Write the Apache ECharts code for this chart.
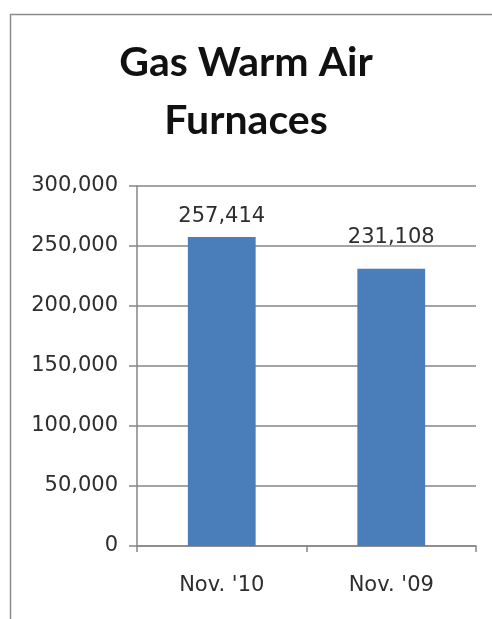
<!DOCTYPE html>
<html><head><meta charset="utf-8">
<script src="https://cdn.jsdelivr.net/npm/echarts@6/dist/echarts.min.js"></script>
<style>html,body{margin:0;padding:0;background:#fff}#c{width:492px;height:619px}</style>
</head><body><div id="c"></div>
<script>
const categories = ["Nov. '10", "Nov. '09"];
const values = [257414, 231108];
const yTicks = [0, 50000, 100000, 150000, 200000, 250000, 300000];
const titleLines = ["Gas Warm Air", "Furnaces"];

const labelDistances = [10, 21];

const chart = echarts.init(document.getElementById('c'));
const fmt = v => v.toLocaleString('en-US');
chart.setOption({
  animation: false,
  backgroundColor: '#fff',
  graphic: [{
    type: 'rect', left: 8, top: 12, silent: true,
    shape: {width: 520, height: 700},
    style: {fill: 'none', stroke: '#8c8c8c', lineWidth: 1.5}
  }],
  title: {
    text: titleLines.join('\n'), left: 'center', top: 29,
    textStyle: {fontFamily: 'Lato', fontWeight: 'bold', fontSize: 41, lineHeight: 58, color: '#111'}
  },
  grid: {left: 137, right: 16, top: 186, bottom: 73},
  xAxis: {
    type: 'category', data: categories,
    axisLine: {lineStyle: {color: '#868686', width: 1.5}},
    axisTick: {show: true, length: 6, lineStyle: {color: '#868686', width: 1.5}},
    axisLabel: {fontFamily: 'DejaVu Sans', fontSize: 21, color: '#2e2e2e', margin: 29}
  },
  yAxis: {
    type: 'value', min: yTicks[0], max: yTicks[yTicks.length - 1], interval: yTicks[1] - yTicks[0],
    axisLine: {show: true, lineStyle: {color: '#868686', width: 1.5}},
    axisTick: {show: true, length: 8, lineStyle: {color: '#868686', width: 1.5}},
    splitLine: {lineStyle: {color: '#868686', width: 1.5}},
    axisLabel: {fontFamily: 'DejaVu Sans', fontSize: 21, color: '#2e2e2e', margin: 19, formatter: fmt}
  },
  series: [{
    type: 'bar',
    data: values.map((v, i) => ({value: v, label: {distance: labelDistances[i]}})),
    barWidth: '40%',
    itemStyle: {color: '#4a7ebb'},
    label: {show: true, position: 'top', fontFamily: 'DejaVu Sans', fontSize: 21, color: '#2e2e2e', formatter: p => fmt(p.value)}
  }]
});
</script></body></html>
